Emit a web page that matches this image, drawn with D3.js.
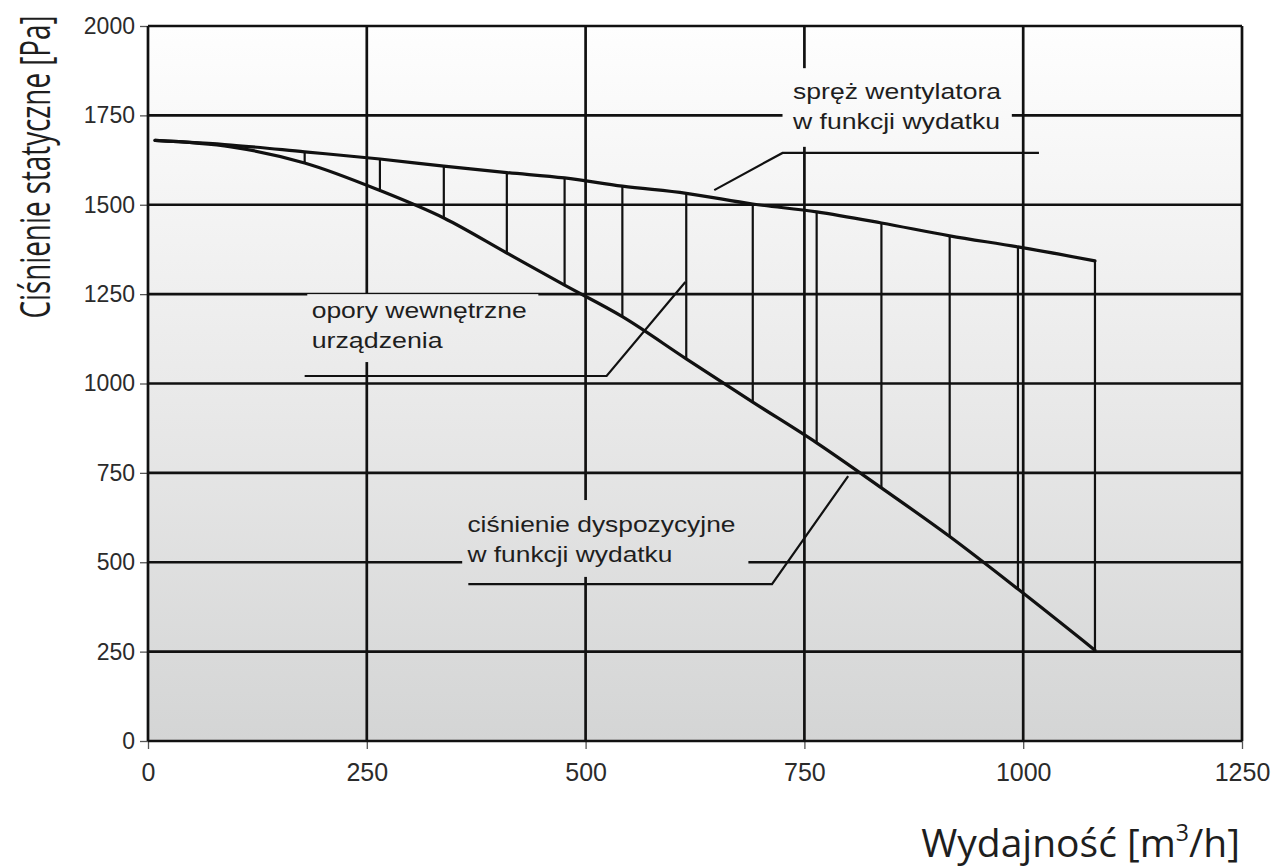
<!DOCTYPE html>
<html>
<head>
<meta charset="utf-8">
<script src="https://cdn.jsdelivr.net/npm/d3@7"></script>
<style>
  body { margin: 0; background: #fff; }
  svg { display: block; }
  .tick text { font-family: "Liberation Sans", Arial, sans-serif; fill: #2b2b2b; }
  .note { font-family: "Liberation Sans", Arial, sans-serif; font-size: 22px; fill: #1e1e1e; }
  .title { font-family: "Open Sans", sans-serif; fill: #1e1e1e; }
</style>
</head>
<body>
<svg id="chart" width="1274" height="867"></svg>
<script>
// axis ticks
const xTicks = [0, 250, 500, 750, 1000, 1250];
const yTicks = [0, 250, 500, 750, 1000, 1250, 1500, 1750, 2000];

// flow [m3/h] and the two curves [Pa]
const flow = [8, 95, 179, 265, 338, 410, 476, 542, 615, 691, 764, 838, 916, 994, 1082];
const fanPressure = [1680, 1667, 1648, 1628, 1608, 1590, 1575, 1552, 1532, 1502, 1480, 1449, 1413, 1382, 1343];
const availablePressure = [1680, 1662, 1617, 1540, 1463, 1365, 1275, 1187, 1069, 948, 834, 708, 572, 425, 254];
const firstHatch = 2; // vertical hatch lines start at this flow index

// annotation texts
const noteLines = [
  ["spręż wentylatora", "w funkcji wydatku"],
  ["opory wewnętrzne", "urządzenia"],
  ["ciśnienie dyspozycyjne", "w funkcji wydatku"],
];

const xTitle = "Wydajność [m";
const yTitle = "Ciśnienie statyczne  [Pa]";

// where the notes sit, in data units (flow, pressure)
const notes = [
  { at: [737, 1796], box: [725, 987, 1882, 1662], len: [208, 207],
    leader: [[647, 1541], [725, 1645], [1018, 1645]] },
  { at: [187, 1183], box: [182, 446, 1250, 1060], len: [215, 131],
    leader: [[614, 1284], [524, 1021], [179, 1021]] },
  { at: [365, 585], box: [359, 686, 674, 459], len: [268, 205],
    leader: [[800, 741], [713, 439], [366, 439]] },
];

const svg = d3.select("#chart");
const x = d3.scaleLinear().domain([0, 1250]).range([148, 1242]);
const y = d3.scaleLinear().domain([0, 2000]).range([741, 26]);

const defs = svg.append("defs");
const grad = defs.append("linearGradient")
  .attr("id", "bg")
  .attr("gradientUnits", "userSpaceOnUse")
  .attr("x1", 0).attr("x2", 0)
  .attr("y1", y(2000)).attr("y2", y(0));
grad.append("stop").attr("offset", 0).attr("stop-color", "#fefefe");
grad.append("stop").attr("offset", 0.5).attr("stop-color", "#eaeaea");
grad.append("stop").attr("offset", 1).attr("stop-color", "#d4d5d5");

svg.append("rect")
  .attr("x", x(0)).attr("y", y(2000))
  .attr("width", x(1250) - x(0)).attr("height", y(0) - y(2000))
  .attr("fill", "url(#bg)");

// small outside ticks
svg.append("g")
  .attr("transform", `translate(${x(0)},0)`)
  .call(d3.axisLeft(y).tickValues(yTicks).tickSize(8).tickPadding(5).tickFormat(d3.format("d")))
  .call(g => g.select(".domain").remove())
  .call(g => g.selectAll("line").attr("stroke", "#555").attr("stroke-width", 1.3))
  .call(g => g.selectAll("text").attr("font-size", 23));

svg.append("g")
  .attr("transform", `translate(0,${y(0)})`)
  .call(d3.axisBottom(x).tickValues(xTicks).tickSize(8).tickPadding(14).tickFormat(d3.format("d")))
  .call(g => g.select(".domain").remove())
  .call(g => g.selectAll("line").attr("stroke", "#555").attr("stroke-width", 1.3))
  .call(g => g.selectAll("text").attr("font-size", 25));

// grid and frame
const grid = svg.append("g").attr("stroke", "#111").attr("stroke-width", 2.7);
grid.selectAll(".gx")
  .data(xTicks)
  .join("line")
  .attr("x1", d => x(d)).attr("x2", d => x(d))
  .attr("y1", y(0)).attr("y2", y(2000));
grid.selectAll(".gy")
  .data(yTicks)
  .join("line")
  .attr("y1", d => y(d)).attr("y2", d => y(d))
  .attr("x1", x(0)).attr("x2", x(1250));

// label boxes hide the grid under the text
svg.append("g")
  .selectAll("rect")
  .data(notes)
  .join("rect")
  .attr("x", d => x(d.box[0]))
  .attr("width", d => x(d.box[1]) - x(d.box[0]))
  .attr("y", d => y(d.box[2]))
  .attr("height", d => y(d.box[3]) - y(d.box[2]))
  .attr("fill", "url(#bg)");

// leader lines
svg.append("g")
  .selectAll("path")
  .data(notes)
  .join("path")
  .attr("fill", "none")
  .attr("stroke", "#111")
  .attr("stroke-width", 2.2)
  .attr("d", d => d3.line().x(p => x(p[0])).y(p => y(p[1]))(d.leader));

// note texts
const noteG = svg.append("g")
  .selectAll("text")
  .data(notes)
  .join("text")
  .attr("class", "note")
  .attr("x", d => x(d.at[0]))
  .attr("y", d => y(d.at[1]));
noteG.selectAll("tspan")
  .data((d, i) => noteLines[i].map((t, j) => ({ t, j, len: d.len[j], x: x(d.at[0]) })))
  .join("tspan")
  .attr("x", d => d.x)
  .attr("dy", d => (d.j === 0 ? 0 : 30))
  .attr("textLength", d => d.len)
  .attr("lengthAdjust", "spacingAndGlyphs")
  .text(d => d.t);

// hatch between the curves
const hatch = flow.map((f, i) => ({ f, top: fanPressure[i], bottom: availablePressure[i] })).slice(firstHatch);
svg.append("g")
  .attr("stroke", "#111")
  .attr("stroke-width", 2.2)
  .selectAll("line")
  .data(hatch)
  .join("line")
  .attr("x1", d => x(d.f)).attr("x2", d => x(d.f))
  .attr("y1", d => y(d.top)).attr("y2", d => y(d.bottom));

// curves
const curve = d3.line()
  .x((d, i) => x(flow[i]))
  .y(d => y(d))
  .curve(d3.curveMonotoneX);

svg.append("g")
  .selectAll("path")
  .data([fanPressure, availablePressure])
  .join("path")
  .attr("fill", "none")
  .attr("stroke", "#111")
  .attr("stroke-width", 3.2)
  .attr("stroke-linecap", "round")
  .attr("d", curve);

// axis titles
const xt = svg.append("text")
  .attr("class", "title")
  .attr("x", 1240)
  .attr("y", 857)
  .attr("text-anchor", "end")
  .attr("font-size", 39)
  .text(xTitle);
xt.append("tspan").attr("font-size", 23).attr("dy", -16).text("3");
xt.append("tspan").attr("dy", 16).text("/h]");

// y title is squeezed along its length to fit 303px, like the original
const yt = svg.append("text")
  .attr("class", "title")
  .attr("text-anchor", "middle")
  .attr("font-size", 42)
  .text(yTitle);
const natural = yt.node().getComputedTextLength();
yt.attr("transform", `translate(50,167) rotate(-90) scale(${303 / natural},1)`);
</script>
</body>
</html>
